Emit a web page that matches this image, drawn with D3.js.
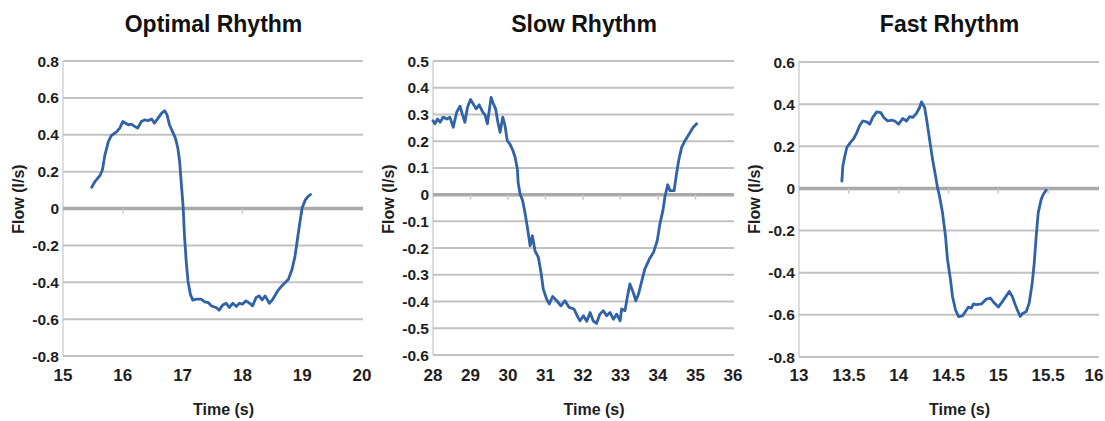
<!DOCTYPE html>
<html>
<head>
<meta charset="utf-8">
<script src="https://cdn.jsdelivr.net/npm/d3@7"></script>
<style>
    body { margin: 0; background: #fff; }
    .title { font-family: "Liberation Sans", Arial, sans-serif; font-weight: bold; font-size: 23px; fill: #111; }
    .tickLabel { font-family: "Liberation Sans", Arial, sans-serif; font-weight: bold; fill: #1e1e1e; }
    .axisTitle { font-family: "Liberation Sans", Arial, sans-serif; font-weight: bold; font-size: 16px; fill: #1e1e1e; }
    .grid { stroke: #c2c2c2; stroke-width: 2; }
    .zeroLine { stroke: #a9a9a9; stroke-width: 3.5; }
    .flow { fill: none; stroke: #2f62a8; stroke-width: 2.8; stroke-linejoin: round; stroke-linecap: round; }
</style>
</head>
<body>
<script>
//chart titles
var titles = ["Optimal Rhythm", "Slow Rhythm", "Fast Rhythm"];

//optimal rhythm trace (time in s, flow in l/s)
var optimalTime = [15.48, 15.53, 15.62, 15.66, 15.70, 15.76, 15.81, 15.89, 15.95, 16.00, 16.09, 16.14, 16.20, 16.25, 16.31, 16.37, 16.42, 16.48, 16.53, 16.59, 16.65, 16.70, 16.74, 16.78, 16.83, 16.88, 16.92, 16.95, 16.98, 17.01, 17.03, 17.06, 17.09, 17.13, 17.17, 17.23, 17.31, 17.37, 17.43, 17.48, 17.56, 17.61, 17.67, 17.73, 17.78, 17.84, 17.90, 17.95, 18.00, 18.06, 18.12, 18.17, 18.23, 18.28, 18.33, 18.38, 18.45, 18.50, 18.59, 18.67, 18.77, 18.83, 18.88, 18.92, 18.96, 19.00, 19.05, 19.10, 19.14];
var optimalFlow = [0.115, 0.144, 0.18, 0.21, 0.29, 0.364, 0.396, 0.414, 0.436, 0.472, 0.454, 0.458, 0.445, 0.436, 0.472, 0.481, 0.476, 0.486, 0.463, 0.49, 0.517, 0.53, 0.508, 0.454, 0.418, 0.382, 0.328, 0.256, 0.13, 0.004, -0.14, -0.285, -0.393, -0.465, -0.497, -0.492, -0.492, -0.506, -0.51, -0.528, -0.537, -0.551, -0.524, -0.514, -0.537, -0.514, -0.531, -0.514, -0.519, -0.501, -0.514, -0.528, -0.483, -0.474, -0.496, -0.474, -0.514, -0.496, -0.447, -0.416, -0.384, -0.33, -0.258, -0.168, -0.077, 0.004, 0.045, 0.066, 0.076];

//slow rhythm trace
var slowTime = [28.00, 28.05, 28.12, 28.19, 28.27, 28.37, 28.45, 28.54, 28.63, 28.72, 28.78, 28.85, 28.92, 29.00, 29.07, 29.15, 29.23, 29.33, 29.39, 29.45, 29.50, 29.55, 29.61, 29.67, 29.73, 29.79, 29.86, 29.92, 29.98, 30.05, 30.13, 30.19, 30.25, 30.27, 30.32, 30.39, 30.45, 30.51, 30.59, 30.65, 30.72, 30.81, 30.88, 30.94, 31.03, 31.10, 31.19, 31.30, 31.41, 31.52, 31.63, 31.76, 31.87, 31.92, 32.01, 32.10, 32.19, 32.27, 32.36, 32.45, 32.54, 32.63, 32.72, 32.81, 32.90, 32.99, 33.03, 33.12, 33.18, 33.25, 33.34, 33.41, 33.48, 33.57, 33.65, 33.77, 33.88, 33.98, 34.05, 34.13, 34.19, 34.26, 34.32, 34.43, 34.48, 34.55, 34.63, 34.72, 34.83, 34.94, 35.03];
var slowFlow = [0.277, 0.265, 0.283, 0.271, 0.29, 0.283, 0.29, 0.252, 0.308, 0.331, 0.302, 0.271, 0.327, 0.356, 0.34, 0.321, 0.336, 0.308, 0.298, 0.265, 0.315, 0.364, 0.34, 0.321, 0.271, 0.233, 0.29, 0.258, 0.202, 0.19, 0.165, 0.14, 0.096, 0.046, 0.003, -0.022, -0.066, -0.116, -0.191, -0.154, -0.21, -0.235, -0.291, -0.353, -0.391, -0.409, -0.381, -0.397, -0.416, -0.397, -0.422, -0.428, -0.46, -0.472, -0.453, -0.474, -0.441, -0.472, -0.482, -0.447, -0.434, -0.453, -0.441, -0.466, -0.447, -0.472, -0.428, -0.434, -0.385, -0.334, -0.366, -0.397, -0.372, -0.322, -0.278, -0.241, -0.216, -0.172, -0.11, -0.06, -0.004, 0.037, 0.015, 0.015, 0.065, 0.127, 0.177, 0.202, 0.227, 0.252, 0.265];

//fast rhythm trace
var fastTime = [13.43, 13.44, 13.46, 13.48, 13.52, 13.55, 13.58, 13.61, 13.64, 13.68, 13.71, 13.74, 13.78, 13.82, 13.85, 13.89, 13.93, 13.96, 14.00, 14.04, 14.08, 14.11, 14.14, 14.18, 14.21, 14.23, 14.26, 14.28, 14.31, 14.34, 14.37, 14.39, 14.41, 14.44, 14.47, 14.49, 14.52, 14.54, 14.57, 14.60, 14.64, 14.67, 14.70, 14.73, 14.75, 14.78, 14.83, 14.88, 14.92, 14.96, 15.00, 15.04, 15.08, 15.11, 15.14, 15.17, 15.19, 15.22, 15.24, 15.28, 15.31, 15.34, 15.36, 15.38, 15.40, 15.43, 15.45, 15.48];
var fastFlow = [0.035, 0.106, 0.154, 0.194, 0.221, 0.237, 0.265, 0.3, 0.32, 0.316, 0.305, 0.337, 0.363, 0.36, 0.337, 0.32, 0.324, 0.32, 0.305, 0.332, 0.32, 0.341, 0.337, 0.357, 0.384, 0.411, 0.384, 0.329, 0.233, 0.138, 0.059, 0.003, -0.037, -0.116, -0.227, -0.338, -0.433, -0.513, -0.576, -0.608, -0.605, -0.584, -0.563, -0.568, -0.548, -0.552, -0.548, -0.525, -0.52, -0.544, -0.563, -0.537, -0.51, -0.489, -0.513, -0.552, -0.576, -0.608, -0.595, -0.584, -0.544, -0.449, -0.354, -0.227, -0.116, -0.052, -0.029, -0.008];

//tick labels
var optimalXTicks = [15, 16, 17, 18, 19, 20];
var optimalYTicks = [0.8, 0.6, 0.4, 0.2, 0, -0.2, -0.4, -0.6, -0.8];
var slowXTicks = [28, 29, 30, 31, 32, 33, 34, 35, 36];
var slowYTicks = [0.5, 0.4, 0.3, 0.2, 0.1, 0, -0.1, -0.2, -0.3, -0.4, -0.5, -0.6];
var fastXTicks = [13, 13.5, 14, 14.5, 15, 15.5, 16];
var fastYTicks = [0.6, 0.4, 0.2, 0, -0.2, -0.4, -0.6, -0.8];

(function (){

    //begin script when window loads
    window.onload = setCharts();

    function setCharts(){
        //page dimensions
        var width = 1105,
            height = 421;

        var svg = d3.select("body")
            .append("svg")
            .attr("width", width)
            .attr("height", height);

        //panel frames: left, right, top, bottom of each plot area
        var panels = [
            { title: titles[0], time: optimalTime, flow: optimalFlow, xTicks: optimalXTicks, yTicks: optimalYTicks,
              left: 63, right: 362, top: 61, bottom: 356 },
            { title: titles[1], time: slowTime, flow: slowFlow, xTicks: slowXTicks, yTicks: slowYTicks,
              left: 433, right: 733, top: 61, bottom: 355 },
            { title: titles[2], time: fastTime, flow: fastFlow, xTicks: fastXTicks, yTicks: fastYTicks,
              left: 799, right: 1098, top: 62, bottom: 357 }
        ];

        panels.forEach(function(p){
            drawPanel(svg, p, width);
        });
    };

    function drawPanel(svg, p, width){
        //scales come straight from the tick arrays
        var xScale = d3.scaleLinear()
            .domain(d3.extent(p.xTicks))
            .range([p.left, p.right]);

        var yScale = d3.scaleLinear()
            .domain(d3.extent(p.yTicks))
            .range([p.bottom, p.top]);

        var g = svg.append("g");

        //left axis line
        g.append("line")
            .attr("x1", p.left)
            .attr("x2", p.left)
            .attr("y1", p.top)
            .attr("y2", p.bottom)
            .style("stroke", "#d2d2d2")
            .style("stroke-width", 1.5);

        //horizontal gridlines
        g.selectAll(".grid")
            .data(p.yTicks)
            .enter()
            .append("line")
            .attr("class", function(d){
                return d === 0 ? "zeroLine" : "grid";
            })
            .attr("x1", p.left)
            .attr("x2", p.right + 1)
            .attr("y1", function(d){ return yScale(d); })
            .attr("y2", function(d){ return yScale(d); });

        //small tick marks hanging under the zero line
        g.selectAll(".xTickMark")
            .data(p.xTicks.slice(1, -1))
            .enter()
            .append("line")
            .attr("class", "xTickMark")
            .attr("x1", function(d){ return xScale(d); })
            .attr("x2", function(d){ return xScale(d); })
            .attr("y1", yScale(0))
            .attr("y2", yScale(0) + 5)
            .style("stroke", "#c8c8c8")
            .style("stroke-width", 1.5);

        //y tick labels
        g.selectAll(".yLabel")
            .data(p.yTicks)
            .enter()
            .append("text")
            .attr("class", "tickLabel")
            .attr("x", p.left - 4)
            .attr("y", function(d){ return yScale(d); })
            .attr("dy", "0.36em")
            .attr("text-anchor", "end")
            .style("font-size", "15.5px")
            .text(function(d){ return String(d); });

        //x tick labels (last one kept inside the page)
        g.selectAll(".xLabel")
            .data(p.xTicks)
            .enter()
            .append("text")
            .attr("class", "tickLabel")
            .attr("x", function(d){ return Math.min(xScale(d), width - 11); })
            .attr("y", 381)
            .attr("text-anchor", "middle")
            .style("font-size", "17px")
            .text(function(d){ return String(d); });

        //flow trace
        var line = d3.line()
            .x(function(d){ return xScale(d[0]); })
            .y(function(d){ return yScale(d[1]); })
            .curve(d3.curveLinear);

        g.append("path")
            .datum(d3.zip(p.time, p.flow))
            .attr("class", "flow")
            .attr("d", line);

        //chart title
        g.append("text")
            .attr("class", "title")
            .attr("x", (p.left + p.right) / 2 + 1)
            .attr("y", 32)
            .attr("text-anchor", "middle")
            .text(p.title);

        //axis titles
        g.append("text")
            .attr("class", "axisTitle")
            .attr("x", (p.left + p.right) / 2 + 11)
            .attr("y", 415)
            .attr("text-anchor", "middle")
            .text("Time (s)");

        g.append("text")
            .attr("class", "axisTitle")
            .attr("transform", "translate(" + (p.left - 39) + "," + 199 + ") rotate(-90)")
            .attr("text-anchor", "middle")
            .text("Flow (l/s)");
    };

})();
</script>
</body>
</html>
